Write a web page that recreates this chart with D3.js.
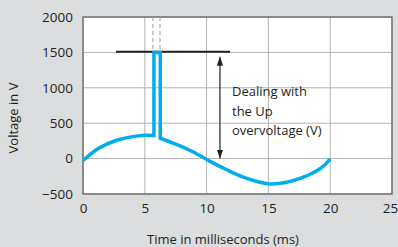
<!DOCTYPE html>
<html>
<head>
<meta charset="utf-8">
<script src="https://cdn.jsdelivr.net/npm/d3@7"></script>
<style>
  body { margin: 0; background: #dcddde; }
  svg { display: block; }
  text { font-family: "Open Sans", sans-serif; fill: #231f20; }
</style>
</head>
<body>
<div id="chart"></div>
<script>
const width = 398;
const height = 247;

const margin = { left: 83, right: 6, top: 17, bottom: 53 };

// waveform: time (ms) and voltage (V), pulse between the two 1500 points
const timeMs = [0, 0.35, 0.67, 1.2, 1.76, 2.4, 3.1, 3.8, 4.45, 5.1, 5.74, 5.74, 6.25, 6.25, 7.0, 7.85, 8.92, 10.27, 11.63, 12.97, 14.32, 15.13, 16.48, 17.82, 18.5, 19.17, 19.6, 20];
const voltage = [-25, 25, 72, 138, 190, 238, 276, 303, 321, 330, 328, 1500, 1500, 288, 238, 180, 94, -39, -157, -263, -334, -357, -334, -263, -210, -143, -82, -5];
const pulseStart = 10; // index of first pulse corner

// annotations
const limitLine = { t: [2.67, 11.9], v: 1510 };
const dashedTimes = [5.66, 6.23];
const arrowSpan = { t: 11.08, v: [1440, 0] };
const noteLines = ["Dealing with", "the Up", "overvoltage (V)"];

const xTicks = [0, 5, 10, 15, 20, 25];
const yTicks = [-500, 0, 500, 1000, 1500, 2000];

const svg = d3.select("#chart").append("svg")
  .attr("width", width)
  .attr("height", height);

const x = d3.scaleLinear()
  .domain([0, 25])
  .range([margin.left, width - margin.right]);

const y = d3.scaleLinear()
  .domain([-500, 2000])
  .range([height - margin.bottom, margin.top]);

//------------------------------------------------------------- plot area + grid
svg.append("rect")
  .attr("x", x(0))
  .attr("y", y(2000))
  .attr("width", x(25) - x(0))
  .attr("height", y(-500) - y(2000))
  .attr("fill", "#fff");

svg.append("g")
  .selectAll("line")
  .data(xTicks)
  .enter().append("line")
  .attr("x1", d => x(d)).attr("x2", d => x(d))
  .attr("y1", y(2000)).attr("y2", y(-500))
  .attr("stroke", "#b4b4b4");

svg.append("g")
  .selectAll("line")
  .data(yTicks)
  .enter().append("line")
  .attr("x1", x(0)).attr("x2", x(25))
  .attr("y1", d => y(d)).attr("y2", d => y(d))
  .attr("stroke", "#b4b4b4");

svg.append("rect")
  .attr("x", x(0))
  .attr("y", y(2000))
  .attr("width", x(25) - x(0))
  .attr("height", y(-500) - y(2000))
  .attr("fill", "none")
  .attr("stroke", "#6e6e6e")
  .attr("stroke-width", 1.4);

//------------------------------------------------------------- axes labels
const xAxis = d3.axisBottom(x).tickValues(xTicks).tickFormat(d3.format("d")).tickSize(0).tickPadding(9);
const yAxis = d3.axisLeft(y).tickValues(yTicks).tickFormat(d3.format("d")).tickSize(0).tickPadding(10);

const gx = svg.append("g")
  .attr("transform", "translate(0," + y(-500) + ")")
  .call(xAxis);
const gy = svg.append("g")
  .attr("transform", "translate(" + x(0) + ",0)")
  .call(yAxis);

[gx, gy].forEach(g => {
  g.select(".domain").remove();
  g.selectAll("text")
    .attr("font-size", 13.5)
    .attr("font-family", "'Open Sans', sans-serif")
    .attr("fill", "#231f20");
});
gx.selectAll("text").filter(d => d === 25).attr("dx", -2);

svg.append("text")
  .attr("x", 223)
  .attr("y", 244)
  .attr("text-anchor", "middle")
  .attr("font-size", 13)
  .text("Time in milliseconds (ms)");

svg.append("text")
  .attr("transform", "translate(18,118) rotate(-90)")
  .attr("text-anchor", "middle")
  .attr("font-size", 13)
  .text("Voltage in V");

//------------------------------------------------------------- annotations
svg.append("g")
  .selectAll("line")
  .data(dashedTimes)
  .enter().append("line")
  .attr("x1", d => x(d)).attr("x2", d => x(d))
  .attr("y1", y(2000)).attr("y2", y(1500))
  .attr("stroke", "#9a9a9a")
  .attr("stroke-dasharray", "4,3");

svg.append("line")
  .attr("x1", x(limitLine.t[0]))
  .attr("x2", x(limitLine.t[1]))
  .attr("y1", y(limitLine.v))
  .attr("y2", y(limitLine.v))
  .attr("stroke", "#222")
  .attr("stroke-width", 2);

svg.append("defs").append("marker")
  .attr("id", "head")
  .attr("viewBox", "0 0 10 10")
  .attr("refX", 10).attr("refY", 5)
  .attr("markerWidth", 9).attr("markerHeight", 9)
  .attr("markerUnits", "userSpaceOnUse")
  .attr("orient", "auto-start-reverse")
  .append("path")
  .attr("d", "M0,1.5L10,5L0,8.5Z")
  .attr("fill", "#222");

svg.append("line")
  .attr("x1", x(arrowSpan.t)).attr("x2", x(arrowSpan.t))
  .attr("y1", y(arrowSpan.v[0])).attr("y2", y(arrowSpan.v[1]))
  .attr("stroke", "#222")
  .attr("stroke-width", 1.2)
  .attr("marker-start", "url(#head)")
  .attr("marker-end", "url(#head)");

svg.append("text")
  .attr("font-size", 13)
  .selectAll("tspan")
  .data(noteLines)
  .enter().append("tspan")
  .attr("x", 232)
  .attr("y", (d, i) => 96 + i * 19.5)
  .text(d => d);

//------------------------------------------------------------- waveform
const pts = timeMs.map((t, i) => [t, voltage[i]]);
const line = d3.line()
  .x(d => x(d[0]))
  .y(d => y(d[1]));

// smooth only the sine parts, keep the pulse square
const smooth = d3.line()
  .x(d => x(d[0]))
  .y(d => y(d[1]))
  .curve(d3.curveCatmullRom.alpha(0.5));

const left = pts.slice(0, pulseStart + 1);
const pulse = pts.slice(pulseStart, pulseStart + 4);
const right = pts.slice(pulseStart + 3);

svg.append("path")
  .attr("d", smooth(left) + "L" + line(pulse).slice(1) + "L" + smooth(right).slice(1))
  .attr("fill", "none")
  .attr("stroke", "#00aeef")
  .attr("stroke-width", 3.5)
  .attr("stroke-linejoin", "miter");
</script>
</body>
</html>
